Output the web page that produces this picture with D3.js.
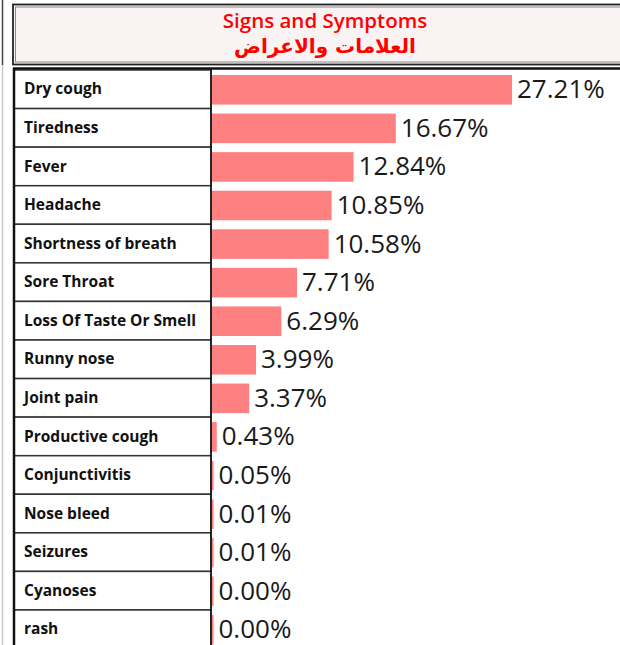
<!DOCTYPE html>
<html>
<head>
<meta charset="utf-8">
<script src="https://cdn.jsdelivr.net/npm/d3@7"></script>
<style>
  body { margin: 0; background: #fff; }
  svg { display: block; }
</style>
</head>
<body>
<svg id="chart" width="620" height="645"></svg>
<script>
// symptom names and their share
var symptoms = ["Dry cough", "Tiredness", "Fever", "Headache", "Shortness of breath",
    "Sore Throat", "Loss Of Taste Or Smell", "Runny nose", "Joint pain", "Productive cough",
    "Conjunctivitis", "Nose bleed", "Seizures", "Cyanoses", "rash"];
var shares = [27.21, 16.67, 12.84, 10.85, 10.58, 7.71, 6.29, 3.99, 3.37, 0.43,
    0.05, 0.01, 0.01, 0.00, 0.00];
var titleEn = "Signs and Symptoms";
var titleAr = "العلامات والاعراض";

var svg = d3.select("#chart");

var tableTop = 70,
    rowH = 38.57,
    labelRight = 211,
    tableLeft = 14;

var x = d3.scaleLinear()
    .domain([0, 27.21])
    .range([212, 512]);

var y = d3.scaleBand()
    .domain(symptoms)
    .range([tableTop, tableTop + rowH * symptoms.length])
    .paddingInner(0);

// Title Page Edge
// thin line along the left edge of the page
svg.append("line")
    .attr("x1", 2.5).attr("x2", 2.5)
    .attr("y1", 0).attr("y2", 65)
    .style("stroke", "#444").style("stroke-width", 1.5);
svg.append("line")
    .attr("x1", 2.5).attr("x2", 2.5)
    .attr("y1", 65).attr("y2", 645)
    .style("stroke", "#c8c8c8").style("stroke-width", 1.5);

// Title Header Box
svg.append("rect")
    .attr("x", 13).attr("y", 4.5)
    .attr("width", 620).attr("height", 60)
    .style("fill", "#f9f3f3")
    .style("stroke", "#222").style("stroke-width", 1.8);
svg.append("rect")
    .attr("x", 15.5).attr("y", 7)
    .attr("width", 620).attr("height", 55)
    .style("fill", "none")
    .style("stroke", "#8a8a8a").style("stroke-width", 1);

svg.append("text")
    .attr("x", 325).attr("y", 28)
    .attr("text-anchor", "middle")
    .style("font-family", "'Open Sans', sans-serif")
    .style("font-weight", 600)
    .style("font-size", "20.5px")
    .style("fill", "#ff0000")
    .text(titleEn);
svg.append("text")
    .attr("x", 325).attr("y", 53)
    .attr("text-anchor", "middle")
    .style("font-family", "'DejaVu Sans', sans-serif")
    .style("font-weight", "bold")
    .style("font-size", "20px")
    .style("fill", "#ff0000")
    .text(titleAr);

// Title Bars
svg.selectAll(".bar")
    .data(shares)
    .enter()
    .append("rect")
    .attr("class", "bar")
    .attr("x", x(0))
    .attr("y", function (d, i) { return y(symptoms[i]) + 5; })
    .attr("width", function (d) { return Math.max(1.5, x(d) - x(0)); })
    .attr("height", y.bandwidth() - 9)
    .style("fill", "#ff8080");

// Title Value Labels
svg.selectAll(".value")
    .data(shares)
    .enter()
    .append("text")
    .attr("class", "value")
    .attr("x", function (d) { return Math.max(x(d), x(0) + 1.5) + 5; })
    .attr("y", function (d, i) { return y(symptoms[i]) + y.bandwidth() / 2 + 2; })
    .attr("dominant-baseline", "middle")
    .style("font-family", "'Open Sans', sans-serif")
    .style("font-size", "26px")
    .style("fill", "#1a1a1a")
    .text(function (d) { return d.toFixed(2) + "%"; });

// Title Label Cells
svg.selectAll(".cell")
    .data(symptoms)
    .enter()
    .append("rect")
    .attr("class", "cell")
    .attr("x", tableLeft)
    .attr("y", function (d) { return y(d); })
    .attr("width", labelRight - tableLeft)
    .attr("height", y.bandwidth())
    .style("fill", "#fff")
    .style("stroke", "#333").style("stroke-width", 1.5);

svg.selectAll(".label")
    .data(symptoms)
    .enter()
    .append("text")
    .attr("class", "label")
    .attr("x", 24)
    .attr("y", function (d) { return y(d) + y.bandwidth() / 2 + 1; })
    .attr("dominant-baseline", "middle")
    .style("font-family", "'Open Sans', sans-serif")
    .style("font-weight", "bold")
    .style("font-size", "15.5px")
    .style("fill", "#111")
    .text(function (d) { return d; });

// table frame: thick top rule, left rule and column divider
svg.append("line")
    .attr("x1", 13).attr("x2", 620)
    .attr("y1", 68.5).attr("y2", 68.5)
    .style("stroke", "#111").style("stroke-width", 2.5);
svg.append("line")
    .attr("x1", tableLeft).attr("x2", tableLeft)
    .attr("y1", 68).attr("y2", 645)
    .style("stroke", "#111").style("stroke-width", 2.5);
svg.append("line")
    .attr("x1", labelRight).attr("x2", labelRight)
    .attr("y1", 68).attr("y2", 645)
    .style("stroke", "#111").style("stroke-width", 1.5);
</script>
</body>
</html>
